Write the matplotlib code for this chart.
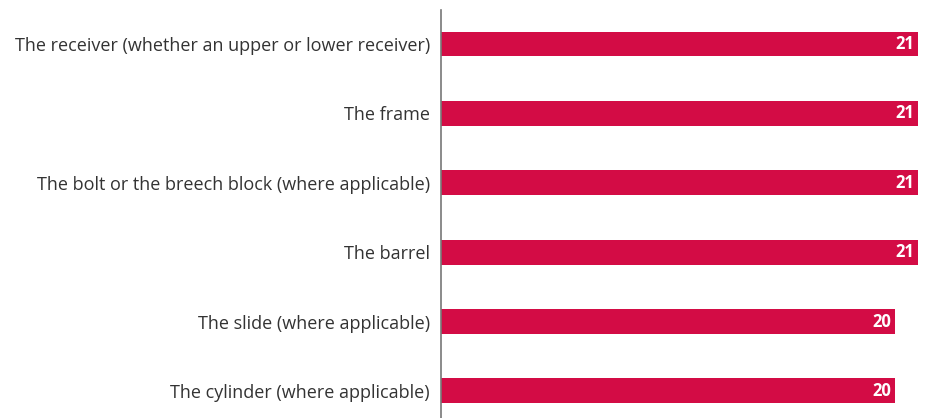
import matplotlib.pyplot as plt
import numpy as np

plt.rcParams['font.family'] = ['Open Sans', 'DejaVu Sans']

parts = [
    "The receiver (whether an upper or lower receiver)",
    "The frame",
    "The bolt or the breech block (where applicable)",
    "The barrel",
    "The slide (where applicable)",
    "The cylinder (where applicable)",
]
counts = [21, 21, 21, 21, 20, 20]

bar_color = "#D30C45"
text_color = "#333333"

fig = plt.figure(figsize=(9.28, 4.18), dpi=100)
ax = fig.add_axes([441 / 928, 0, (918 - 441) / 928, 1 - 10 / 418])

y = np.arange(len(parts))
ax.barh(y, counts, height=0.36, color=bar_color)

for yi, c in zip(y, counts):
    ax.text(c - 0.17, yi, str(c), ha="right", va="center",
            color="white", fontsize=12, fontweight="bold")

ax.set_xlim(0, 21)
ax.set_ylim(len(parts) - 1 + 0.39, -0.49)
ax.set_yticks(y)
ax.set_yticklabels(parts, fontsize=13, color=text_color)
ax.tick_params(axis="y", length=0, pad=8)
ax.set_xticks([])

for side in ["top", "right", "bottom"]:
    ax.spines[side].set_visible(False)
ax.spines["left"].set_color("#777777")
ax.spines["left"].set_linewidth(1.2)

fig.savefig("out.png", dpi=100)
